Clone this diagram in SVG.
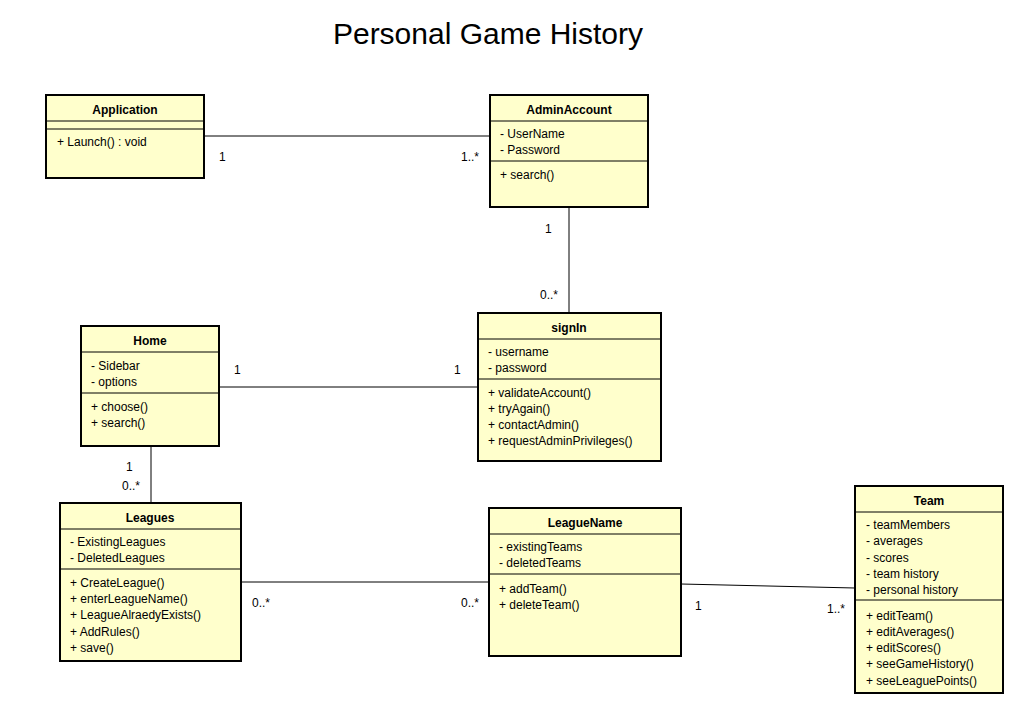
<svg xmlns="http://www.w3.org/2000/svg" width="1035" height="720" viewBox="0 0 1035 720">
<style>
.box{fill:#FFFFCC;stroke:#000;stroke-width:2}
.sep{stroke:#000;stroke-width:1}
.t{font-family:"Liberation Sans",Arial,sans-serif;font-size:12px;fill:#000}
.h{font-family:"Liberation Sans",Arial,sans-serif;font-size:12px;font-weight:bold;fill:#000;text-anchor:middle}
.c{stroke:#000;stroke-width:1;fill:none}
.title{font-family:"Liberation Sans",Arial,sans-serif;font-size:30px;fill:#000;text-anchor:middle}
</style>
<rect width="1035" height="720" fill="#fff"/>
<text class="title" x="488" y="44">Personal Game History</text>

<g id="connectors">
<line class="c" x1="204" y1="136" x2="490" y2="136"/>
<line class="c" x1="569" y1="207" x2="569" y2="313"/>
<line class="c" x1="219" y1="387" x2="478" y2="387"/>
<line class="c" x1="151" y1="446" x2="151" y2="503"/>
<line class="c" x1="241" y1="582" x2="489" y2="582"/>
<line class="c" x1="681" y1="584" x2="855" y2="588"/>
<text class="t" x="219" y="161">1</text>
<text class="t" x="461" y="161">1..*</text>
<text class="t" x="545" y="233">1</text>
<text class="t" x="540" y="299">0..*</text>
<text class="t" x="234" y="374">1</text>
<text class="t" x="454" y="374">1</text>
<text class="t" x="126" y="471">1</text>
<text class="t" x="122" y="490">0..*</text>
<text class="t" x="252" y="607">0..*</text>
<text class="t" x="461" y="607">0..*</text>
<text class="t" x="695" y="610">1</text>
<text class="t" x="827" y="613">1..*</text>
</g>

<g id="Application">
<rect class="box" x="46" y="95" width="158" height="83"/>
<text class="h" x="125" y="114">Application</text>
<line class="sep" x1="46" y1="121" x2="204" y2="121"/>
<line class="sep" x1="46" y1="129" x2="204" y2="129"/>
<text class="t" x="57" y="146">+ Launch() : void</text>
</g>

<g id="AdminAccount">
<rect class="box" x="490" y="95" width="158" height="112"/>
<text class="h" x="569" y="114">AdminAccount</text>
<line class="sep" x1="490" y1="121" x2="648" y2="121"/>
<text class="t" x="500" y="138">- UserName</text>
<text class="t" x="500" y="154">- Password</text>
<line class="sep" x1="490" y1="161" x2="648" y2="161"/>
<text class="t" x="500" y="179">+ search()</text>
</g>

<g id="signIn">
<rect class="box" x="478" y="313" width="183" height="148"/>
<text class="h" x="569" y="332">signIn</text>
<line class="sep" x1="478" y1="339" x2="661" y2="339"/>
<text class="t" x="488" y="356">- username</text>
<text class="t" x="488" y="372">- password</text>
<line class="sep" x1="478" y1="379" x2="661" y2="379"/>
<text class="t" x="488" y="397">+ validateAccount()</text>
<text class="t" x="488" y="413">+ tryAgain()</text>
<text class="t" x="488" y="429">+ contactAdmin()</text>
<text class="t" x="488" y="445">+ requestAdminPrivileges()</text>
</g>

<g id="Home">
<rect class="box" x="81" y="326" width="138" height="120"/>
<text class="h" x="150" y="345">Home</text>
<line class="sep" x1="81" y1="352" x2="219" y2="352"/>
<text class="t" x="91" y="370">- Sidebar</text>
<text class="t" x="91" y="386">- options</text>
<line class="sep" x1="81" y1="393" x2="219" y2="393"/>
<text class="t" x="91" y="411">+ choose()</text>
<text class="t" x="91" y="427">+ search()</text>
</g>

<g id="Leagues">
<rect class="box" x="60" y="503" width="181" height="158"/>
<text class="h" x="150" y="522">Leagues</text>
<line class="sep" x1="60" y1="529" x2="241" y2="529"/>
<text class="t" x="70" y="546">- ExistingLeagues</text>
<text class="t" x="70" y="562">- DeletedLeagues</text>
<line class="sep" x1="60" y1="569" x2="241" y2="569"/>
<text class="t" x="70" y="587">+ CreateLeague()</text>
<text class="t" x="70" y="603">+ enterLeagueName()</text>
<text class="t" x="70" y="619">+ LeagueAlraedyExists()</text>
<text class="t" x="70" y="636">+ AddRules()</text>
<text class="t" x="70" y="652">+ save()</text>
</g>

<g id="LeagueName">
<rect class="box" x="489" y="508" width="192" height="148"/>
<text class="h" x="585" y="527">LeagueName</text>
<line class="sep" x1="489" y1="534" x2="681" y2="534"/>
<text class="t" x="499" y="551">- existingTeams</text>
<text class="t" x="499" y="567">- deletedTeams</text>
<line class="sep" x1="489" y1="574" x2="681" y2="574"/>
<text class="t" x="499" y="593">+ addTeam()</text>
<text class="t" x="499" y="609">+ deleteTeam()</text>
</g>

<g id="Team">
<rect class="box" x="855" y="486" width="148" height="207"/>
<text class="h" x="929" y="505">Team</text>
<line class="sep" x1="855" y1="512" x2="1003" y2="512"/>
<text class="t" x="866" y="529">- teamMembers</text>
<text class="t" x="866" y="545">- averages</text>
<text class="t" x="866" y="562">- scores</text>
<text class="t" x="866" y="578">- team history</text>
<text class="t" x="866" y="594">- personal history</text>
<line class="sep" x1="855" y1="600" x2="1003" y2="600"/>
<text class="t" x="866" y="620">+ editTeam()</text>
<text class="t" x="866" y="636">+ editAverages()</text>
<text class="t" x="866" y="652">+ editScores()</text>
<text class="t" x="866" y="668">+ seeGameHistory()</text>
<text class="t" x="866" y="685">+ seeLeaguePoints()</text>
</g>
</svg>
